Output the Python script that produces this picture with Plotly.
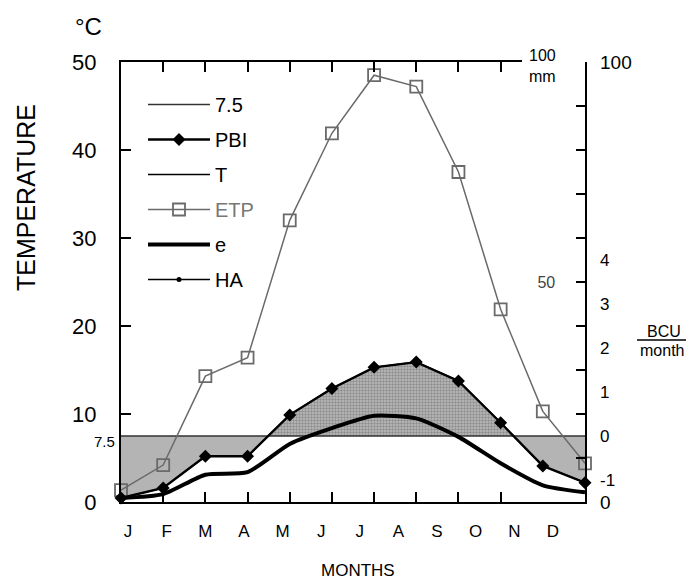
import plotly.graph_objects as go

# ---------------- data ----------------
months = ["J", "F", "M", "A", "M", "J", "J", "A", "S", "O", "N", "D"]
month_idx = list(range(12))
threshold_c = [7.5] * 12                      # 7.5 °C reference line
temp_c = [0.45, 1.6, 5.2, 5.2, 9.9, 12.9, 15.3, 15.9, 13.75, 9.0, 4.1, 2.2]
pbi_bcu = [-1.41, -1.18, -0.46, -0.46, 0.48, 1.08, 1.56, 1.68, 1.25, 0.30, -0.68, -1.06]
etp_mm = [2.7, 8.4, 28.6, 32.8, 64.0, 83.8, 97.0, 94.4, 75.0, 43.8, 20.6, 8.8]
e_c = [0.45, 0.9, 3.1, 3.4, 6.6, 8.4, 9.8, 9.5, 7.4, 4.4, 1.9, 1.1]
ha = [None] * 12
temp_ticks = [0, 10, 20, 30, 40, 50]
mm_ticks = [0, 10, 20, 30, 40, 50, 60, 70, 80, 90, 100]
mm_text = ["", "", "", "", "", "50", "", "", "", "", ""]
bcu_ticks = [-1, 0, 1, 2, 3, 4]
bcu_text = ["-1", "0", "1", "2", "3", "4"]
ha_ticks = [0, 100]

# ---------------- geometry ----------------
W, H = 686, 583
L, R, T, B = 121, 585, 62, 502
PW, PH = R - L, B - T
TOP_END = 522
FONT = "Liberation Sans, Arial, Helvetica, sans-serif"


def px(x):
    return (x - L) / PW


def py(y):
    return (B - y) / PH


fig = go.Figure()

# shaded areas (clipped by their own sub-plots)
fig.add_trace(go.Scatter(x=month_idx, y=pbi_bcu, xaxis="x", yaxis="y", mode="lines",
                         line=dict(width=0), fill="tozeroy", fillcolor="#b4b4b4",
                         showlegend=False, hoverinfo="skip"))
fig.add_trace(go.Scatter(x=month_idx, y=pbi_bcu, xaxis="x", yaxis="y2", mode="lines",
                         line=dict(width=0), fill="tozeroy",
                         fillpattern=dict(shape=".", size=3, solidity=0.5,
                                          fgcolor="#5e5e5e", bgcolor="#bdbdbd"),
                         showlegend=False, hoverinfo="skip"))

# main series
fig.add_trace(go.Scatter(x=month_idx, y=threshold_c, xaxis="x", yaxis="y3", mode="lines",
                         name="7.5", legendrank=1, legendgroup="a",
                         line=dict(color="#333333", width=1.6), cliponaxis=False))
fig.add_trace(go.Scatter(x=month_idx, y=temp_c, xaxis="x", yaxis="y3", mode="lines",
                         name="T", legendrank=3, legendgroup="c",
                         line=dict(color="black", width=1.5), cliponaxis=False))
fig.add_trace(go.Scatter(x=month_idx, y=e_c, xaxis="x", yaxis="y3", mode="lines",
                         name="e", legendrank=5, legendgroup="e",
                         line=dict(color="black", width=4, shape="spline", smoothing=0.6),
                         cliponaxis=False))
fig.add_trace(go.Scatter(x=month_idx, y=etp_mm, xaxis="x", yaxis="y4", mode="lines+markers",
                         name="<span style='color:#777777'>ETP</span>", legendrank=4, legendgroup="d",
                         line=dict(color="#6a6a6a", width=1.5),
                         marker=dict(symbol="square-open", size=12, color="#6a6a6a",
                                     line=dict(width=1.8, color="#6a6a6a")),
                         cliponaxis=False))
fig.add_trace(go.Scatter(x=month_idx, y=pbi_bcu, xaxis="x", yaxis="y5", mode="lines+markers",
                         name="PBI", legendrank=2, legendgroup="b",
                         line=dict(color="black", width=2.3),
                         marker=dict(symbol="diamond", size=10, color="black"),
                         cliponaxis=False))
fig.add_trace(go.Scatter(x=month_idx, y=ha, xaxis="x", yaxis="y6", mode="lines+markers",
                         name="HA", legendrank=6, legendgroup="f",
                         line=dict(color="black", width=1.5),
                         marker=dict(symbol="circle", size=5, color="black"),
                         cliponaxis=False))
# empty carriers so the month-label axis and the top border axis are drawn
fig.add_trace(go.Scatter(x=month_idx, y=[None] * 12, xaxis="x2", yaxis="y3",
                         mode="lines", showlegend=False, hoverinfo="skip"))
fig.add_trace(go.Scatter(x=month_idx, y=[None] * 12, xaxis="x3", yaxis="y3",
                         mode="lines", showlegend=False, hoverinfo="skip"))

noaxis = dict(visible=False, showgrid=False, zeroline=False, fixedrange=True)


def ann(text, x, y, size, **kw):
    d = dict(text=text, x=px(x), y=py(y), xref="paper", yref="paper",
             xanchor="center", yanchor="middle", showarrow=False,
             font=dict(size=size, family=FONT, color="black"))
    d.update(kw)
    return d


fig.update_layout(
    width=W, height=H,
    margin=dict(l=L, r=W - R, t=T, b=H - B),
    paper_bgcolor="white", plot_bgcolor="rgba(0,0,0,0)",
    font=dict(family=FONT, color="black", size=16),
    showlegend=True,
    legend=dict(x=px(143), y=py(85), xanchor="left", yanchor="top",
                bgcolor="rgba(0,0,0,0)", font=dict(size=20, family=FONT),
                itemwidth=62, tracegroupgap=6, traceorder="grouped"),
    xaxis=dict(domain=[0, 1], range=[0, 11], anchor="y3", showline=True, linewidth=2,
               linecolor="black", ticks="inside", ticklen=10, tickwidth=1.5, tickcolor="black",
               tickvals=month_idx, showticklabels=False, showgrid=False, zeroline=False),
    xaxis2=dict(overlaying="x", anchor="y3", side="bottom", range=[-0.181, 11.83],
                tickvals=month_idx, ticktext=months, ticks="", showline=False,
                showgrid=False, zeroline=False, tickfont=dict(size=17),
                ticklabelstandoff=17),
    xaxis3=dict(domain=[0, px(TOP_END)], range=[0, px(TOP_END) * 11], anchor="y3",
                side="top", showline=True, linewidth=1.5, linecolor="black",
                ticks="inside", ticklen=10, tickwidth=1.5, tickcolor="black",
                tickvals=month_idx[:10], showticklabels=False, showgrid=False, zeroline=False),
    yaxis=dict(domain=[0, 0.15], range=[-1.5, 0], anchor="x", **noaxis),
    yaxis2=dict(domain=[0.15, 1], range=[0, 8.5], anchor="x", **noaxis),
    yaxis3=dict(domain=[0, 1], range=[0, 50], anchor="x", showline=True, linewidth=2,
                linecolor="black", ticks="inside", ticklen=10, tickwidth=1.5,
                tickcolor="black", tickvals=temp_ticks, tickfont=dict(size=22),
                ticklabelstandoff=18, showgrid=False, zeroline=False),
    yaxis4=dict(overlaying="y3", anchor="x", side="right", range=[0, 100],
                showline=True, linewidth=2, linecolor="black", ticks="inside",
                ticklen=9, tickwidth=1.5, tickcolor="black", tickvals=mm_ticks,
                ticktext=mm_text, ticklabelposition="inside", tickfont=dict(size=16),
                ticklabelstandoff=21, showgrid=False, zeroline=False),
    yaxis5=dict(overlaying="y3", anchor="x", side="right", range=[-1.5, 8.5],
                tickvals=bcu_ticks, ticktext=bcu_text, ticks="", showline=False,
                tickfont=dict(size=17), ticklabelstandoff=14, showgrid=False, zeroline=False),
    yaxis6=dict(overlaying="y3", anchor="x", side="right", range=[0, 100],
                tickvals=ha_ticks, ticks="", showline=False, tickfont=dict(size=19),
                ticklabelstandoff=14, showgrid=False, zeroline=False),
    annotations=[
        ann("°C", 88, 27, 24),
        ann("TEMPERATURE", 26, 198, 25, textangle=-90),
        ann("MONTHS", 358, 570, 17),
        ann("BCU", 664, 331, 16),
        ann("month", 662, 350, 16),
        dict(text="7.5", x=px(104), y=7.5, xref="paper", yref="y3", yshift=-5,
             xanchor="center", yanchor="middle", showarrow=False,
             font=dict(size=15, family=FONT, color="black")),
        dict(text="100<br>mm", x=px(558), y=100, xref="paper", yref="y4", yshift=-4,
             xanchor="right", yanchor="middle", align="left", showarrow=False,
             font=dict(size=16, family=FONT, color="black")),
    ],
    shapes=[
        dict(type="line", xref="paper", yref="paper", x0=px(637), x1=px(686),
             y0=py(340), y1=py(340), line=dict(color="black", width=1.5)),
    ],
)

fig.write_html("out.html", config={"displayModeBar": False},
               post_script="document.body.style.margin='0';")
